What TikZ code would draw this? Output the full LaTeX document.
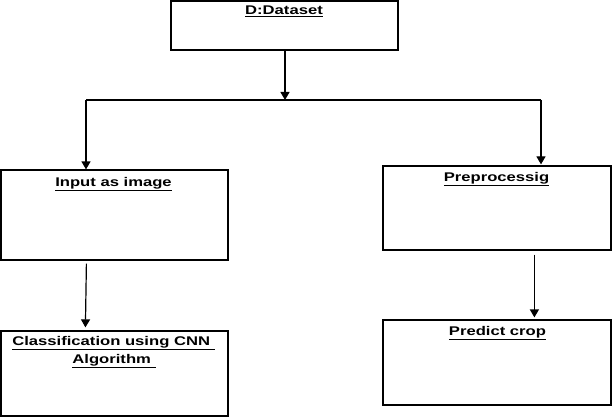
\documentclass[tikz,border=0pt]{standalone}
\usepackage{fontspec}
\setmainfont{Liberation Sans}
\usetikzlibrary{arrows.meta,calc}
\begin{document}
\begin{tikzpicture}[x=1pt,y=-1pt,
  box/.style={draw,line width=1.2pt,rectangle,inner sep=0pt},
  lbl/.style={anchor=base,inner sep=0pt,font=\fontsize{12.6}{15}\bfseries\selectfont},
  arr/.style={line width=1.2pt,-{Triangle[length=8pt,width=9pt]}},
  ln/.style={line width=1.2pt}]
\useasboundingbox (0,0) rectangle (613,417);
\node[box,minimum width=227pt,minimum height=49pt] (ds) at (284.5,25.5) {};
\node[box,minimum width=227pt,minimum height=90pt] (inp) at (114.5,215) {};
\node[box,minimum width=228pt,minimum height=84pt] (pre) at (497,208) {};
\node[box,minimum width=227pt,minimum height=85pt] (cls) at (114.5,373.5) {};
\node[box,minimum width=228pt,minimum height=85pt] (prd) at (497,362.5) {};
\node[lbl] (tds) at (284,15) {\scalebox{1.32}[1]{\underline{D:Dataset}}};
\node[lbl] (tinp) at (113.5,186) {\scalebox{1.32}[1]{\underline{Input as image}}};
\node[lbl] (tcls1) at (113.5,345) {\scalebox{1.32}[1]{\underline{Classification using CNN\ }}};
\node[lbl] (tcls2) at (114,363) {\scalebox{1.32}[1]{\underline{Algorithm\ }}};
\node[lbl] (tpre) at (496.5,181) {\scalebox{1.32}[1]{\underline{Preprocessig}}};
\node[lbl] (tprd) at (497.5,335) {\scalebox{1.32}[1]{\underline{Predict crop}}};
\coordinate (j) at (285,100);
\coordinate (jl) at (86,100);
\coordinate (jr) at (541,100);
\draw[arr] (ds.south -| j) -- (j);
\draw[ln] (jl) -- (jr);
\draw[arr] (jl) -- (jl |- inp.north);
\draw[arr] (jr) -- ($(jr |- pre.north)+(0,-1)$);
\draw[arr] ($(inp.south west)+(86,3)$) -- ($(cls.north west)+(85,-3)$);
\draw[arr] ($(pre.south west)+(152,4)$) -- ($(prd.north west)+(152,-2)$);
\end{tikzpicture}
\end{document}
